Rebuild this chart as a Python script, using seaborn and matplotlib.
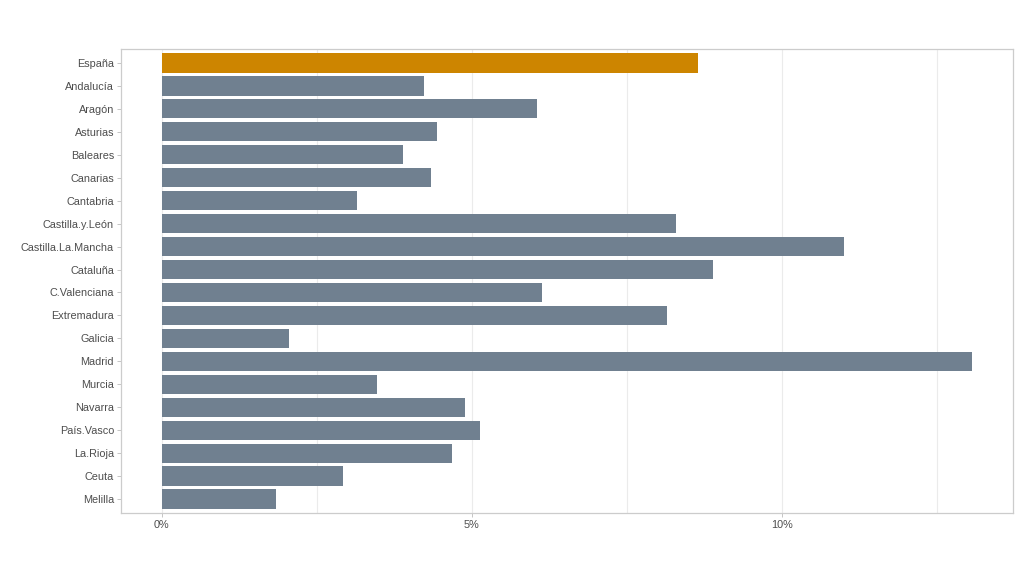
import numpy as np
import pandas as pd
import matplotlib.pyplot as plt
import seaborn as sns

# ----------------------------
# DATA
# ----------------------------
regions = ["España", "Andalucía", "Aragón", "Asturias", "Baleares", "Canarias",
           "Cantabria", "Castilla.y.León", "Castilla.La.Mancha", "Cataluña",
           "C.Valenciana", "Extremadura", "Galicia", "Madrid", "Murcia",
           "Navarra", "País.Vasco", "La.Rioja", "Ceuta", "Melilla"]
values = [8.65, 4.24, 6.05, 4.44, 3.90, 4.34, 3.15, 8.29, 11.00, 8.89,
          6.13, 8.15, 2.06, 13.08, 3.47, 4.89, 5.13, 4.68, 2.92, 1.84]
highlight = "España"

df = pd.DataFrame({"region": regions, "value": values})
palette = {r: ("#CD8500" if r == highlight else "#708090") for r in regions}

# ----------------------------
# PLOT
# ----------------------------
sns.set_style("white")
plt.rcParams["font.family"] = ["Liberation Sans", "DejaVu Sans"]

fig = plt.figure(figsize=(10.24, 5.76), dpi=100)
ax = fig.add_axes([0.1182, 0.1094, 0.8711, 0.8055])

sns.barplot(data=df, y="region", x="value", hue="region", palette=palette,
            order=regions, legend=False, width=0.85, saturation=1,
            linewidth=0, ax=ax)

vmax = max(values)
pad = vmax * 0.05
ax.set_xlim(-pad, vmax + pad)
ax.set_ylim(len(regions) - 0.4, -0.6)

ax.set_xticks([0, 5, 10])
ax.set_xticklabels(["0%", "5%", "10%"])
ax.set_xticks([2.5, 7.5, 12.5], minor=True)
ax.grid(True, axis="x", which="both", color="#ebebeb", linewidth=0.8)
ax.set_axisbelow(True)

ax.set_xlabel("")
ax.set_ylabel("")
ax.tick_params(axis="both", which="major", labelsize=7.8, labelcolor="#4d4d4d",
               color="#bbbbbb", length=3, width=0.6, left=True, bottom=True)
ax.tick_params(axis="y", pad=2)
ax.tick_params(axis="x", pad=2)
ax.tick_params(axis="x", which="minor", length=0)
for s in ax.spines.values():
    s.set_color("#cccccc")
    s.set_linewidth(0.9)

fig.savefig("out.png", dpi=100)
